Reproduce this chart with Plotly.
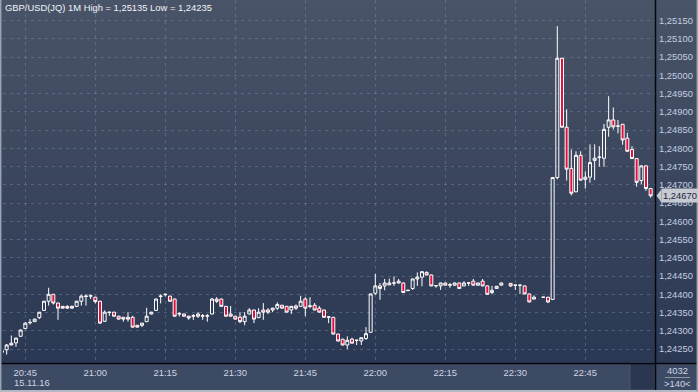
import plotly.graph_objects as go

# ---------------- data (1-minute candles, GBP/USD, 15.11.16) ----------------
times = ["20:40", "20:41", "20:42", "20:43", "20:44", "20:45", "20:46", "20:47", "20:48", "20:49",
         "20:50", "20:51", "20:52", "20:53", "20:54", "20:55", "20:56", "20:57", "20:58", "20:59",
         "21:00", "21:01", "21:02", "21:03", "21:04", "21:05", "21:06", "21:07", "21:08", "21:09",
         "21:10", "21:11", "21:12", "21:13", "21:14", "21:15", "21:16", "21:17", "21:18", "21:19",
         "21:20", "21:21", "21:22", "21:23", "21:24", "21:25", "21:26", "21:27", "21:28", "21:29",
         "21:30", "21:31", "21:32", "21:33", "21:34", "21:35", "21:36", "21:37", "21:38", "21:39",
         "21:40", "21:41", "21:42", "21:43", "21:44", "21:45", "21:46", "21:47", "21:48", "21:49",
         "21:50", "21:51", "21:52", "21:53", "21:54", "21:55", "21:56", "21:57", "21:58", "21:59",
         "22:00", "22:01", "22:02", "22:03", "22:04", "22:05", "22:06", "22:07", "22:08", "22:09",
         "22:10", "22:11", "22:12", "22:13", "22:14", "22:15", "22:16", "22:17", "22:18", "22:19",
         "22:20", "22:21", "22:22", "22:23", "22:24", "22:25", "22:26", "22:27", "22:29", "22:30",
         "22:31", "22:32", "22:33", "22:34", "22:36", "22:37", "22:38", "22:39", "22:40", "22:41",
         "22:42", "22:43", "22:44", "22:45", "22:46", "22:47", "22:48", "22:49", "22:50", "22:51",
         "22:52", "22:53", "22:54", "22:55", "22:56", "22:57", "22:58", "22:59"]

opens = [1.24241, 1.24248, 1.24266, 1.24267, 1.24285, 1.24306, 1.24322, 1.24325, 1.24336, 1.24356,
         1.24381, 1.24400, 1.24376, 1.24367, 1.24367, 1.24367, 1.24367, 1.24381, 1.24394, 1.24395,
         1.24392, 1.24381, 1.24326, 1.24350, 1.24351, 1.24340, 1.24337, 1.24337, 1.24337, 1.24315,
         1.24315, 1.24325, 1.24346, 1.24356, 1.24394, 1.24399, 1.24395, 1.24387, 1.24346, 1.24346,
         1.24340, 1.24340, 1.24346, 1.24340, 1.24340, 1.24346, 1.24387, 1.24387, 1.24367, 1.24346,
         1.24340, 1.24337, 1.24325, 1.24346, 1.24357, 1.24336, 1.24357, 1.24357, 1.24357, 1.24362,
         1.24370, 1.24367, 1.24357, 1.24368, 1.24367, 1.24387, 1.24367, 1.24370, 1.24362, 1.24357,
         1.24337, 1.24337, 1.24291, 1.24277, 1.24261, 1.24277, 1.24274, 1.24272, 1.24279, 1.24296,
         1.24403, 1.24423, 1.24423, 1.24431, 1.24431, 1.24436, 1.24431, 1.24410, 1.24416, 1.24442,
         1.24447, 1.24460, 1.24453, 1.24423, 1.24423, 1.24431, 1.24425, 1.24425, 1.24431, 1.24423,
         1.24431, 1.24436, 1.24425, 1.24436, 1.24423, 1.24405, 1.24416, 1.24425, 1.24430, 1.24425,
         1.24425, 1.24423, 1.24401, 1.24387, 1.24392, 1.24392, 1.24386, 1.24720, 1.25047, 1.24858,
         1.24745, 1.24681, 1.24781, 1.24715, 1.24721, 1.24767, 1.24775, 1.24773, 1.24858, 1.24878,
         1.24861, 1.24866, 1.24828, 1.24797, 1.24772, 1.24712, 1.24752, 1.24690]

highs = [1.24246, 1.24264, 1.24287, 1.24281, 1.24304, 1.24323, 1.24332, 1.24333, 1.24351, 1.24382,
         1.24418, 1.24401, 1.24377, 1.24368, 1.24370, 1.24369, 1.24382, 1.24399, 1.24400, 1.24400,
         1.24393, 1.24382, 1.24356, 1.24352, 1.24352, 1.24341, 1.24338, 1.24351, 1.24341, 1.24316,
         1.24321, 1.24363, 1.24352, 1.24388, 1.24400, 1.24402, 1.24396, 1.24388, 1.24351, 1.24347,
         1.24341, 1.24346, 1.24351, 1.24346, 1.24346, 1.24390, 1.24392, 1.24388, 1.24368, 1.24368,
         1.24341, 1.24351, 1.24351, 1.24362, 1.24358, 1.24362, 1.24376, 1.24362, 1.24363, 1.24378,
         1.24371, 1.24368, 1.24368, 1.24372, 1.24396, 1.24392, 1.24392, 1.24376, 1.24368, 1.24358,
         1.24340, 1.24338, 1.24292, 1.24278, 1.24285, 1.24281, 1.24275, 1.24282, 1.24310, 1.24402,
         1.24456, 1.24431, 1.24442, 1.24443, 1.24449, 1.24442, 1.24432, 1.24412, 1.24443, 1.24460,
         1.24463, 1.24463, 1.24454, 1.24425, 1.24432, 1.24432, 1.24431, 1.24432, 1.24432, 1.24436,
         1.24432, 1.24442, 1.24432, 1.24442, 1.24424, 1.24423, 1.24423, 1.24432, 1.24431, 1.24426,
         1.24426, 1.24424, 1.24402, 1.24397, 1.24393, 1.24393, 1.24720, 1.25135, 1.25048, 1.24907,
         1.24797, 1.24792, 1.24792, 1.24737, 1.24811, 1.24811, 1.24806, 1.24867, 1.24943, 1.24912,
         1.24878, 1.24867, 1.24843, 1.24806, 1.24773, 1.24753, 1.24753, 1.24691]

lows = [1.24240, 1.24235, 1.24261, 1.24256, 1.24283, 1.24305, 1.24317, 1.24325, 1.24332, 1.24355,
        1.24369, 1.24372, 1.24330, 1.24361, 1.24360, 1.24361, 1.24365, 1.24369, 1.24369, 1.24387,
        1.24375, 1.24319, 1.24324, 1.24341, 1.24339, 1.24331, 1.24325, 1.24325, 1.24309, 1.24309,
        1.24310, 1.24324, 1.24345, 1.24354, 1.24375, 1.24394, 1.24380, 1.24339, 1.24339, 1.24339,
        1.24330, 1.24330, 1.24335, 1.24330, 1.24325, 1.24345, 1.24376, 1.24366, 1.24339, 1.24339,
        1.24331, 1.24321, 1.24315, 1.24345, 1.24321, 1.24335, 1.24330, 1.24346, 1.24351, 1.24357,
        1.24361, 1.24350, 1.24346, 1.24357, 1.24366, 1.24340, 1.24362, 1.24356, 1.24350, 1.24336,
        1.24321, 1.24290, 1.24271, 1.24260, 1.24250, 1.24265, 1.24261, 1.24261, 1.24275, 1.24295,
        1.24399, 1.24385, 1.24411, 1.24425, 1.24423, 1.24430, 1.24404, 1.24409, 1.24412, 1.24423,
        1.24422, 1.24452, 1.24422, 1.24418, 1.24412, 1.24424, 1.24418, 1.24423, 1.24415, 1.24422,
        1.24423, 1.24424, 1.24423, 1.24422, 1.24399, 1.24400, 1.24415, 1.24424, 1.24420, 1.24412,
        1.24401, 1.24400, 1.24378, 1.24386, 1.24391, 1.24376, 1.24385, 1.24715, 1.24857, 1.24712,
        1.24671, 1.24680, 1.24712, 1.24690, 1.24706, 1.24713, 1.24750, 1.24750, 1.24832, 1.24852,
        1.24841, 1.24810, 1.24791, 1.24771, 1.24695, 1.24702, 1.24684, 1.24665]

closes = [1.24245, 1.24261, 1.24261, 1.24280, 1.24302, 1.24321, 1.24323, 1.24332, 1.24351, 1.24381,
          1.24400, 1.24376, 1.24362, 1.24362, 1.24362, 1.24362, 1.24381, 1.24395, 1.24395, 1.24396,
          1.24380, 1.24321, 1.24351, 1.24351, 1.24340, 1.24332, 1.24332, 1.24332, 1.24310, 1.24310,
          1.24321, 1.24340, 1.24351, 1.24387, 1.24395, 1.24400, 1.24381, 1.24340, 1.24347, 1.24340,
          1.24335, 1.24341, 1.24340, 1.24341, 1.24341, 1.24387, 1.24381, 1.24367, 1.24340, 1.24340,
          1.24332, 1.24325, 1.24340, 1.24357, 1.24332, 1.24351, 1.24351, 1.24351, 1.24362, 1.24372,
          1.24362, 1.24351, 1.24367, 1.24362, 1.24381, 1.24362, 1.24368, 1.24357, 1.24351, 1.24337,
          1.24338, 1.24291, 1.24272, 1.24261, 1.24274, 1.24266, 1.24274, 1.24281, 1.24292, 1.24401,
          1.24423, 1.24416, 1.24431, 1.24426, 1.24431, 1.24431, 1.24405, 1.24411, 1.24442, 1.24447,
          1.24462, 1.24453, 1.24423, 1.24424, 1.24431, 1.24425, 1.24426, 1.24431, 1.24416, 1.24431,
          1.24431, 1.24425, 1.24431, 1.24423, 1.24400, 1.24411, 1.24422, 1.24431, 1.24423, 1.24425,
          1.24425, 1.24401, 1.24379, 1.24392, 1.24392, 1.24379, 1.24720, 1.25047, 1.24858, 1.24743,
          1.24677, 1.24781, 1.24713, 1.24721, 1.24761, 1.24773, 1.24776, 1.24852, 1.24878, 1.24859,
          1.24861, 1.24823, 1.24792, 1.24772, 1.24707, 1.24752, 1.24690, 1.24670]

day = "2016-11-15"
date_label = "15.11.16"
x_tick_times = ["20:45", "21:00", "21:15", "21:30", "21:45", "22:00", "22:15", "22:30", "22:45"]
y_tick_vals = [1.2425, 1.2430, 1.2435, 1.2440, 1.2445, 1.2450, 1.2455, 1.2460, 1.2465, 1.2470,
               1.2475, 1.2480, 1.2485, 1.2490, 1.2495, 1.2500, 1.2505, 1.2510, 1.2515]
footer_count = "4032"
footer_zoom = ">140<"

# ---------------- layout geometry ----------------
W, H = 698, 392
L, R, T, B = 3, 655, 0, 363


def px_x(px):
    return (px - L) / (R - L)


def px_y(py):
    return (B - py) / (B - T)


def fmt(v):
    return f"{v:.5f}".replace(".", ",")


x = [f"{day} {t}:00" for t in times]

fig = go.Figure()
fig.add_trace(go.Candlestick(
    x=x, open=opens, high=highs, low=lows, close=closes,
    increasing=dict(line=dict(color="#ffffff", width=1), fillcolor="rgba(0,0,0,0)"),
    decreasing=dict(line=dict(color="#ffffff", width=1), fillcolor="#e0103c"),
    whiskerwidth=0, hoverinfo="skip", showlegend=False,
))

shapes = []
# vertical gradient background over chart and price axis
top_c = (74, 84, 104)
bot_c = (43, 56, 83)
n = 60
for i in range(n):
    f = (i + 0.5) / n
    c = tuple(round(top_c[k] + (bot_c[k] - top_c[k]) * f) for k in range(3))
    y0 = T + (B - T) * i / n
    y1 = T + (B - T) * (i + 1) / n + 0.6
    shapes.append(dict(type="rect", xref="paper", yref="paper", layer="below",
                       x0=px_x(0), x1=px_x(W), y0=px_y(min(y1, B)), y1=px_y(y0),
                       fillcolor=f"rgb{c}", line=dict(width=0)))
# dark block at right of the time strip
shapes.append(dict(type="rect", xref="paper", yref="paper", layer="above",
                   x0=px_x(630), x1=px_x(655), y0=px_y(390), y1=px_y(363),
                   fillcolor="#2a374f", line=dict(color="#4a5670", width=1)))
# black separator lines
shapes.append(dict(type="line", xref="paper", yref="paper", layer="above",
                   x0=px_x(0), x1=px_x(W), y0=px_y(363.5), y1=px_y(363.5),
                   line=dict(color="#05070c", width=1.5)))
shapes.append(dict(type="line", xref="paper", yref="paper", layer="above",
                   x0=px_x(655.5), x1=px_x(655.5), y0=px_y(H), y1=px_y(0),
                   line=dict(color="#05070c", width=1.5)))
# outer frame
shapes.append(dict(type="line", xref="paper", yref="paper", layer="above",
                   x0=px_x(0.7), x1=px_x(0.7), y0=px_y(H), y1=px_y(0),
                   line=dict(color="#9aa3b3", width=1.5)))
shapes.append(dict(type="line", xref="paper", yref="paper", layer="above",
                   x0=px_x(0), x1=px_x(W), y0=px_y(391), y1=px_y(391),
                   line=dict(color="#b2b9c5", width=2)))
shapes.append(dict(type="line", xref="paper", yref="paper", layer="above",
                   x0=px_x(697.3), x1=px_x(697.3), y0=px_y(H), y1=px_y(0),
                   line=dict(color="#9aa3b3", width=1.5)))
# footer separator
shapes.append(dict(type="line", xref="paper", yref="paper", layer="above",
                   x0=px_x(665), x1=px_x(690), y0=px_y(377.5), y1=px_y(377.5),
                   line=dict(color="#8d97a8", width=1)))
# last-price marker arrow
last = closes[-1]
xt, xb = px_x(656.5), px_x(661.5)
shapes.append(dict(type="path", xref="paper", yref="y", ysizemode="pixel", yanchor=last,
                   path=f"M {xt},0 L {xb},6.5 L {xb},-6.5 Z", layer="above",
                   fillcolor="#c6cad2", line=dict(width=0)))

font_face = "Liberation Sans, Arial, sans-serif"
annotations = [
    dict(text=f"GBP/USD(JQ) 1M High = {fmt(max(highs))} Low = {fmt(min(lows))}",
         xref="paper", yref="paper", x=px_x(3), y=px_y(7.5), xanchor="left", yanchor="middle",
         showarrow=False, font=dict(family=font_face, size=9.4, color="#f2f4f8")),
    dict(text=date_label, xref="paper", yref="paper", x=px_x(11.5), y=px_y(382.5),
         xanchor="left", yanchor="middle", showarrow=False,
         font=dict(family=font_face, size=9.4, color="#cdd5e3")),
    dict(text=footer_count, xref="paper", yref="paper", x=px_x(677), y=px_y(370.5),
         xanchor="center", yanchor="middle", showarrow=False,
         font=dict(family=font_face, size=9.4, color="#cdd5e3")),
    dict(text=footer_zoom, xref="paper", yref="paper", x=px_x(677.5), y=px_y(383.5),
         xanchor="center", yanchor="middle", showarrow=False,
         font=dict(family=font_face, size=9.4, color="#cdd5e3")),
    dict(text=fmt(last), xref="paper", yref="y", x=px_x(661), y=last,
         xanchor="left", yanchor="middle", showarrow=False, bgcolor="#c6cad2",
         width=35, height=11, borderpad=1, align="left",
         font=dict(family=font_face, size=9.4, color="#1b2436")),
]

grid_color = "rgba(130,145,172,0.42)"
fig.update_layout(
    width=W, height=H,
    margin=dict(l=L, r=W - R, t=T, b=H - B, pad=0),
    paper_bgcolor="#3d4a63",
    plot_bgcolor="rgba(0,0,0,0)",
    separators=",.",
    boxgap=0.36, boxgroupgap=0,
    shapes=shapes,
    annotations=annotations,
    showlegend=False,
    xaxis=dict(
        type="date",
        range=[f"{day} 20:40:13", f"{day} 22:59:56"],
        rangeslider=dict(visible=False),
        tickvals=[f"{day} {t}:00" for t in x_tick_times],
        ticktext=x_tick_times,
        showgrid=True, gridcolor=grid_color, griddash="3px,4px", gridwidth=1,
        zeroline=False, showline=False, ticks="",
        tickfont=dict(family=font_face, size=9.4, color="#cdd5e3"),
        ticklabelstandoff=3,
        fixedrange=True,
    ),
    yaxis=dict(
        side="right",
        range=[1.242117, 1.252067],
        tickvals=y_tick_vals,
        tickformat=".5f",
        showgrid=True, gridcolor=grid_color, griddash="3px,4px", gridwidth=1,
        zeroline=False, showline=False, ticks="",
        tickfont=dict(family=font_face, size=9.4, color="#c2cde0"),
        ticklabelstandoff=3,
        fixedrange=True,
    ),
)

fig.write_html("out.html", config=dict(displayModeBar=False, staticPlot=True))
